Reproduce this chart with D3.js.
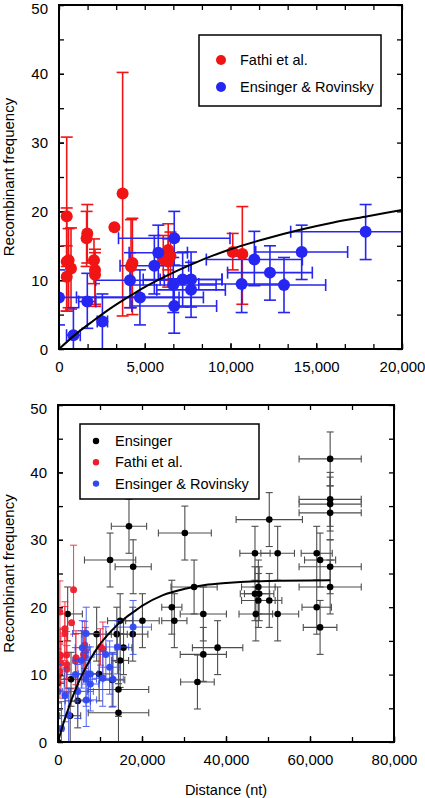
<!DOCTYPE html>
<html>
<head>
<meta charset="utf-8">
<script src="https://cdn.jsdelivr.net/npm/d3@7"></script>
<style>
  html, body { margin: 0; padding: 0; background: #fff; }
  svg { display: block; }
  text { font-family: "Liberation Sans", "DejaVu Sans", sans-serif; }
</style>
</head>
<body>
<svg id="chart" width="425" height="798"></svg>
<script>
// ---------------- DATA ----------------
// Fathi et al. (red): distance, frequency, lower / upper error (top panel)
const fathiX  = [450, 450, 560, 700, 450, 1650, 1610, 2040, 2100, 2100, 3230, 3710, 4280, 4200, 6080, 6370, 6370, 6500, 10130, 10690];
const fathiY  = [19.3, 12.7, 12.9, 11.7, 10.5, 16.8, 16.1, 12.9, 11.5, 10.8, 17.7, 22.6, 12.5, 12.0, 13.0, 14.4, 12.7, 13.5, 14.1, 13.8];
const fathiLo = [12.0, 5.5, 6.0, 5.8, 5.5, 12.5, 12.0, 9.5, 6.5, 6.2, 17.7, 4.8, 5.0, 6.0, 10.0, 11.5, 9.0, 10.0, 11.5, 6.5];
const fathiHi = [30.8, 20.5, 17.5, 17.6, 15.0, 21.0, 20.0, 16.0, 14.0, 14.5, 17.7, 40.2, 19.0, 18.8, 16.5, 18.2, 16.0, 17.0, 16.8, 20.7];
// Fathi et al. error as drawn in the bottom panel (symmetric)
const fathiErr2 = [4.6, 4.0, 4.0, 4.0, 4.0, 4.0, 4.0, 3.5, 3.5, 3.5, 0, 6.6, 4.0, 4.0, 3.5, 3.5, 3.5, 3.5, 2.7, 4.0];

// Ensinger & Rovinsky (blue): distance, frequency, distance error, lower / upper error
const rovX    = [0, 840, 1650, 2530, 4140, 4720, 5560, 5790, 6720, 6660, 6720, 7210, 7700, 7700, 10650, 11390, 12300, 13120, 14150, 17880];
const rovY    = [7.5, 2.0, 6.9, 4.0, 10.0, 7.5, 12.1, 14.0, 16.1, 9.3, 6.25, 10.1, 10.1, 8.6, 9.45, 13.0, 11.1, 9.3, 14.1, 17.05];
const rovXErr = [7000, 400, 500, 300, 2000, 3700, 2000, 1700, 3250, 2500, 2470, 2300, 1800, 2000, 2500, 2800, 2470, 2430, 2680, 4370];
const rovLo   = [3.5, 0, 3.0, 0, 6.0, 3.5, 8.0, 10.0, 12.2, 5.3, 2.3, 6.1, 6.1, 4.6, 5.3, 9.2, 7.1, 5.3, 10.1, 13.0];
const rovHi   = [11.5, 6.0, 11.0, 8.0, 14.0, 11.5, 16.5, 18.0, 20.0, 13.3, 10.2, 14.1, 14.1, 12.6, 13.5, 17.1, 15.0, 13.3, 18.0, 21.0];

// Ensinger (black): distance, frequency, distance error, frequency error
const ensX    = [0, 0, 0, 2300, 3100, 2900, 4700, 9200, 9800, 12900, 12400, 16900, 17900, 14000, 14800, 15600, 14800, 14400, 14400, 17800,
                 20100, 27100, 27700, 30200, 32400, 34600, 34600, 38000, 33200, 46900, 50300, 52300, 47700, 46900, 47900, 47700, 50300, 47100, 52300,
                 61600, 62400, 61600, 62400, 64800, 64800, 64800, 64800, 64800, 64800];
const ensY    = [0, 9.8, 8.7, 19.0, 9.3, 3.9, 6.1, 16.0, 10.1, 9.2, 27.0, 32.0, 26.0, 16.0, 18.0, 14.0, 12.1, 7.8, 4.35, 16.0,
                 18.0, 20.0, 18.0, 31.0, 23.0, 19.0, 13.0, 14.0, 8.9, 28.0, 33.0, 28.0, 23.0, 22.0, 22.0, 21.0, 21.0, 19.0, 19.0,
                 28.0, 27.0, 20.0, 17.0, 42.0, 36.0, 35.3, 34.0, 26.0, 23.0];
const ensXErr = [0, 1500, 1500, 3500, 3000, 2500, 3000, 3500, 3000, 3000, 6100, 4200, 4300, 2500, 3000, 2000, 2000, 7200, 7200, 3600,
                 4000, 2400, 3000, 6300, 5500, 5500, 5500, 6000, 4000, 3600, 7900, 4000, 4000, 3500, 3500, 4000, 3000, 4000, 5000,
                 3700, 3700, 3500, 4000, 7400, 7400, 7400, 7400, 7400, 7400];
const ensYErr = [0, 4, 4, 4, 4, 4, 4, 4, 4, 4, 4, 4, 4, 4, 4, 4, 4, 4, 4.3, 4,
                 4, 4, 4, 4, 4, 4, 4, 4, 4, 4, 4, 4, 4, 4, 4, 4, 4, 4, 4,
                 4, 4, 4, 4, 4, 4, 4, 4, 4, 4];

// Fitted curve
const curveX = [0, 1000, 2000, 3000, 4000, 5000, 6000, 7000, 8000, 9000, 10000, 12000, 14000, 16000, 18000, 20000, 25000, 30000, 35000, 40000, 50000, 64800];
const curveY = [0, 2.2, 4.1, 5.9, 7.5, 9.0, 10.3, 11.5, 12.6, 13.6, 14.5, 16.0, 17.3, 18.4, 19.3, 20.2, 21.8, 22.7, 23.3, 23.6, 23.9, 24.0];

// Tick labels
const yTicks = [0, 10, 20, 30, 40, 50];
const topXTicks = [0, 5000, 10000, 15000, 20000];
const botXTicks = [0, 20000, 40000, 60000, 80000];

const yTitle = "Recombinant frequency";
const xTitle = "Distance (nt)";
const topLegend = ["Fathi et al.", "Ensinger & Rovinsky"];
const botLegend = ["Ensinger", "Fathi et al.", "Ensinger & Rovinsky"];

// ---------------- DRAW ----------------
const svg = d3.select("#chart");
const RED = "#f01414", BLUE = "#2626f2";
const RED2 = "#ee1c2c", BLUE2 = "#3048f2";
const fmt = d3.format(",");

const fathi = fathiX.map((x, i) => ({x, y: fathiY[i], lo: fathiLo[i], hi: fathiHi[i], xe: 0}));
const fathiB = fathiX.map((x, i) => ({x, y: fathiY[i], lo: fathiY[i] - fathiErr2[i], hi: fathiY[i] + fathiErr2[i], xe: 0}));
const rov = rovX.map((x, i) => ({x, y: rovY[i], lo: rovLo[i], hi: rovHi[i], xe: rovXErr[i]}));
const ens = ensX.map((x, i) => ({x, y: ensY[i], lo: ensY[i] - ensYErr[i], hi: ensY[i] + ensYErr[i], xe: ensXErr[i]}));
const curve = curveX.map((x, i) => ({x, y: curveY[i]}));

function panel(cfg) {
  const {left, right, top, bottom, xMax, xTickVals, xMinor, id} = cfg;
  const x = d3.scaleLinear().domain([0, xMax]).range([left, right]);
  const y = d3.scaleLinear().domain([0, 50]).range([bottom, top]);
  const g = svg.append("g");

  g.append("clipPath").attr("id", id).append("rect")
    .attr("x", left).attr("y", top).attr("width", right - left).attr("height", bottom - top);

  const fs = "15px";
  g.append("g").attr("transform", `translate(0,${bottom})`)
    .call(d3.axisBottom(x).tickValues(xMinor).tickSize(-5).tickFormat(""));
  const axl = g.append("g").attr("transform", `translate(0,${bottom})`)
    .call(d3.axisBottom(x).tickValues(xTickVals).tickSize(-6).tickPadding(12).tickFormat(d => fmt(d)));
  axl.selectAll("text").style("font-size", fs).attr("fill", "#000");
  g.append("g").attr("transform", `translate(0,${top})`)
    .call(d3.axisTop(x).tickValues(xMinor).tickSize(-5).tickFormat(""));
  const yMinor = d3.range(0, 51, 5);
  g.append("g").attr("transform", `translate(${left},0)`)
    .call(d3.axisLeft(y).tickValues(yMinor).tickSize(-5).tickFormat(""));
  const ayl = g.append("g").attr("transform", `translate(${left},0)`)
    .call(d3.axisLeft(y).tickValues(yTicks).tickSize(-5).tickPadding(11).tickFormat(d => d));
  ayl.selectAll("text").style("font-size", fs).attr("fill", "#000")
    .attr("dy", d => d === 50 ? "0.55em" : "0.34em");
  g.append("g").attr("transform", `translate(${right},0)`)
    .call(d3.axisRight(y).tickValues(yMinor).tickSize(-5).tickFormat(""));
  g.selectAll(".domain").remove();
  g.selectAll(".tick line").attr("stroke", "#000").attr("stroke-width", 1.3);

  const plot = g.append("g").attr("clip-path", `url(#${id})`);
  g.append("rect").attr("x", left).attr("y", top).attr("width", right - left).attr("height", bottom - top)
    .attr("fill", "none").attr("stroke", "#000").attr("stroke-width", 2);

  g.append("text")
    .attr("transform", `translate(14,${(top + bottom) / 2}) rotate(-90)`)
    .attr("text-anchor", "middle").style("font-size", "15px").text(yTitle);

  return {x, y, plot, g};
}

function errorBars(layer, data, sc, color, sw, cap, opacity) {
  const {x, y} = sc;
  const gg = layer.append("g").attr("stroke", color).attr("stroke-width", sw).attr("fill", "none").attr("opacity", opacity);
  data.forEach(d => {
    if (d.hi > d.lo) {
      gg.append("line").attr("x1", x(d.x)).attr("x2", x(d.x)).attr("y1", y(d.lo)).attr("y2", y(d.hi));
      [d.lo, d.hi].forEach(v => gg.append("line")
        .attr("x1", x(d.x) - cap).attr("x2", x(d.x) + cap).attr("y1", y(v)).attr("y2", y(v)));
    }
    if (d.xe > 0) {
      gg.append("line").attr("x1", x(d.x - d.xe)).attr("x2", x(d.x + d.xe)).attr("y1", y(d.y)).attr("y2", y(d.y));
      [d.x - d.xe, d.x + d.xe].forEach(v => gg.append("line")
        .attr("x1", x(v)).attr("x2", x(v)).attr("y1", y(d.y) - cap).attr("y2", y(d.y) + cap));
    }
  });
}
function dots(layer, data, sc, color, r, opacity) {
  layer.append("g").selectAll("circle").data(data).join("circle")
    .attr("cx", d => sc.x(d.x)).attr("cy", d => sc.y(d.y)).attr("r", r)
    .attr("fill", color).attr("opacity", opacity);
}
function drawCurve(layer, sc, xMax) {
  const line = d3.line().x(d => sc.x(d.x)).y(d => sc.y(d.y)).curve(d3.curveMonotoneX);
  layer.append("path").datum(curve.filter(d => d.x <= xMax + 1))
    .attr("d", line).attr("fill", "none").attr("stroke", "#000").attr("stroke-width", 2);
}

// ----- top panel -----
const P1 = panel({left: 59, right: 402, top: 5, bottom: 349, xMax: 20000,
  xTickVals: topXTicks, xMinor: d3.range(0, 12.5).map(i => i * 5000 / 3), id: "clipTop"});
errorBars(P1.plot, fathi, P1, RED, 1.6, 6, 1);
errorBars(P1.plot, rov, P1, BLUE, 1.6, 6, 1);
dots(P1.plot, fathi, P1, RED, 6, 1);
dots(P1.plot, rov, P1, BLUE, 6, 1);
drawCurve(P1.plot, P1, 20000);

const L1 = P1.g.append("g");
L1.append("rect").attr("x", 199).attr("y", 35).attr("width", 182).attr("height", 71)
  .attr("fill", "#fff").attr("stroke", "#000").attr("stroke-width", 1.5);
[RED, BLUE].forEach((c, i) => {
  L1.append("circle").attr("cx", 221).attr("cy", 60 + i * 27).attr("r", 5).attr("fill", c);
  L1.append("text").attr("x", 240).attr("y", 60 + i * 27).attr("dy", "0.35em")
    .style("font-size", "14.5px").text(topLegend[i]);
});

// ----- bottom panel -----
const P2 = panel({left: 58, right: 394, top: 405, bottom: 742, xMax: 80000,
  xTickVals: botXTicks, xMinor: d3.range(0, 80001, 10000), id: "clipBot"});
errorBars(P2.plot, ens, P2, "#3a3a3a", 1.1, 3.5, 0.9);
dots(P2.plot, ens, P2, "#000", 3.3, 1);
errorBars(P2.plot, fathiB, P2, RED2, 1, 3.5, 0.85);
dots(P2.plot, fathiB, P2, RED2, 3.5, 0.95);
errorBars(P2.plot, rov, P2, BLUE2, 1, 3.5, 0.85);
dots(P2.plot, rov, P2, BLUE2, 3.5, 0.95);
drawCurve(P2.plot, P2, 80000);

const L2 = P2.g.append("g");
L2.append("rect").attr("x", 80).attr("y", 424).attr("width", 179).attr("height", 75)
  .attr("fill", "#fff").attr("stroke", "#000").attr("stroke-width", 1.5);
["#000", RED2, BLUE2].forEach((c, i) => {
  L2.append("circle").attr("cx", 96).attr("cy", 441 + i * 21.3).attr("r", 3.2).attr("fill", c);
  L2.append("text").attr("x", 115).attr("y", 441 + i * 21.3).attr("dy", "0.35em")
    .style("font-size", "14.5px").text(botLegend[i]);
});

svg.append("text").attr("x", 226).attr("y", 790).attr("dy", "0.35em")
  .attr("text-anchor", "middle").style("font-size", "14.5px").text(xTitle);
</script>
</body>
</html>
